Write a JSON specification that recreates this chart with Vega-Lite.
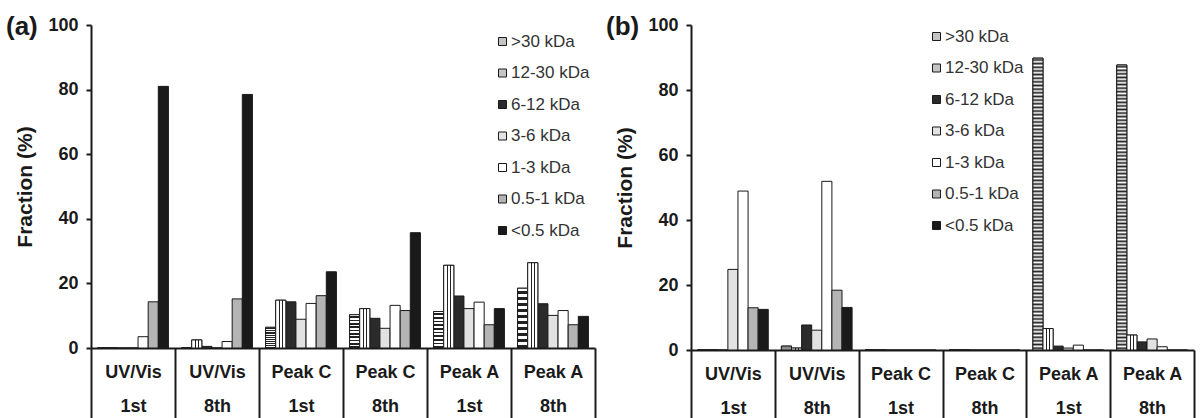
{
  "$schema": "https://vega.github.io/schema/vega-lite/v6.json",
  "background": "white",
  "padding": {"left": 5, "top": 14, "right": 3, "bottom": 0},
  "bounds": "flush",
  "spacing": 96,
  "config": {
    "view": {"stroke": null},
    "axis": {
      "domainColor": "#1a1a1a", "domainWidth": 2, "tickColor": "#1a1a1a", "tickWidth": 2,
      "labelFont": "Liberation Sans", "labelFontWeight": "bold", "labelFontSize": 18, "labelColor": "#1a1a1a",
      "titleFont": "Liberation Sans", "titleFontWeight": "bold", "titleFontSize": 21, "titleColor": "#1a1a1a",
      "grid": false
    },
    "axisX": {"title": null, "labelAngle": 0, "tickBand": "extent", "tickSize": 70, "labelExpr": "split(datum.label, '|')", "labelLineHeight": 34, "labelBaseline": "top", "labelPadding": -55, "labelOverlap": false, "labelFlush": false},
    "axisY": {"tickSize": 5, "labelPadding": 8, "titlePadding": 12},
    "legend": {"title": null, "orient": "none", "symbolType": "square", "symbolSize": 64, "labelFontSize": 17, "labelFont": "Liberation Sans", "labelColor": "#333333", "rowPadding": 13.5, "symbolStrokeColor": "#1a1a1a", "symbolStrokeWidth": 1, "labelOffset": 0, "padding": 0},
    "title": {"font": "Liberation Sans", "fontSize": 26, "fontWeight": "bold", "color": "#1a1a1a", "anchor": "start", "frame": "bounds", "offset": 0}
  },
  "resolve": {"scale": {"fill": "independent", "x": "independent", "y": "independent", "xOffset": "independent"}, "legend": {"fill": "independent"}},
  "datasets": {
    "a": [
      {"g": "UV/Vis|1st", "s": ">30 kDa", "v": 0}, {"g": "UV/Vis|1st", "s": "12-30 kDa", "v": 0}, {"g": "UV/Vis|1st", "s": "6-12 kDa", "v": 0}, {"g": "UV/Vis|1st", "s": "3-6 kDa", "v": 0}, {"g": "UV/Vis|1st", "s": "1-3 kDa", "v": 3.5}, {"g": "UV/Vis|1st", "s": "0.5-1 kDa", "v": 14.3}, {"g": "UV/Vis|1st", "s": "<0.5 kDa", "v": 81},
      {"g": "UV/Vis|8th", "s": ">30 kDa", "v": 0}, {"g": "UV/Vis|8th", "s": "12-30 kDa", "v": 2.5}, {"g": "UV/Vis|8th", "s": "6-12 kDa", "v": 0.5}, {"g": "UV/Vis|8th", "s": "3-6 kDa", "v": 0}, {"g": "UV/Vis|8th", "s": "1-3 kDa", "v": 2.0}, {"g": "UV/Vis|8th", "s": "0.5-1 kDa", "v": 15.2}, {"g": "UV/Vis|8th", "s": "<0.5 kDa", "v": 78.5},
      {"g": "Peak C|1st", "s": ">30 kDa", "v": 6.4}, {"g": "Peak C|1st", "s": "12-30 kDa", "v": 14.8}, {"g": "Peak C|1st", "s": "6-12 kDa", "v": 14.3}, {"g": "Peak C|1st", "s": "3-6 kDa", "v": 8.9}, {"g": "Peak C|1st", "s": "1-3 kDa", "v": 13.8}, {"g": "Peak C|1st", "s": "0.5-1 kDa", "v": 16.2}, {"g": "Peak C|1st", "s": "<0.5 kDa", "v": 23.6},
      {"g": "Peak C|8th", "s": ">30 kDa", "v": 10.3}, {"g": "Peak C|8th", "s": "12-30 kDa", "v": 12.2}, {"g": "Peak C|8th", "s": "6-12 kDa", "v": 9.2}, {"g": "Peak C|8th", "s": "3-6 kDa", "v": 6.1}, {"g": "Peak C|8th", "s": "1-3 kDa", "v": 13.2}, {"g": "Peak C|8th", "s": "0.5-1 kDa", "v": 11.6}, {"g": "Peak C|8th", "s": "<0.5 kDa", "v": 35.7},
      {"g": "Peak A|1st", "s": ">30 kDa", "v": 11.3}, {"g": "Peak A|1st", "s": "12-30 kDa", "v": 25.6}, {"g": "Peak A|1st", "s": "6-12 kDa", "v": 16.1}, {"g": "Peak A|1st", "s": "3-6 kDa", "v": 12.2}, {"g": "Peak A|1st", "s": "1-3 kDa", "v": 14.2}, {"g": "Peak A|1st", "s": "0.5-1 kDa", "v": 7.2}, {"g": "Peak A|1st", "s": "<0.5 kDa", "v": 12.2},
      {"g": "Peak A|8th", "s": ">30 kDa", "v": 18.5}, {"g": "Peak A|8th", "s": "12-30 kDa", "v": 26.4}, {"g": "Peak A|8th", "s": "6-12 kDa", "v": 13.7}, {"g": "Peak A|8th", "s": "3-6 kDa", "v": 10.1}, {"g": "Peak A|8th", "s": "1-3 kDa", "v": 11.6}, {"g": "Peak A|8th", "s": "0.5-1 kDa", "v": 7.2}, {"g": "Peak A|8th", "s": "<0.5 kDa", "v": 9.8}
    ],
    "b": [
      {"g": "UV/Vis|1st", "s": ">30 kDa", "v": 0}, {"g": "UV/Vis|1st", "s": "12-30 kDa", "v": 0}, {"g": "UV/Vis|1st", "s": "6-12 kDa", "v": 0}, {"g": "UV/Vis|1st", "s": "3-6 kDa", "v": 24.8}, {"g": "UV/Vis|1st", "s": "1-3 kDa", "v": 48.9}, {"g": "UV/Vis|1st", "s": "0.5-1 kDa", "v": 13.0}, {"g": "UV/Vis|1st", "s": "<0.5 kDa", "v": 12.5},
      {"g": "UV/Vis|8th", "s": ">30 kDa", "v": 1.2}, {"g": "UV/Vis|8th", "s": "12-30 kDa", "v": 0.6}, {"g": "UV/Vis|8th", "s": "6-12 kDa", "v": 7.7}, {"g": "UV/Vis|8th", "s": "3-6 kDa", "v": 6.1}, {"g": "UV/Vis|8th", "s": "1-3 kDa", "v": 51.9}, {"g": "UV/Vis|8th", "s": "0.5-1 kDa", "v": 18.4}, {"g": "UV/Vis|8th", "s": "<0.5 kDa", "v": 13.1},
      {"g": "Peak C|1st", "s": ">30 kDa", "v": 0}, {"g": "Peak C|1st", "s": "12-30 kDa", "v": 0}, {"g": "Peak C|1st", "s": "6-12 kDa", "v": 0}, {"g": "Peak C|1st", "s": "3-6 kDa", "v": 0}, {"g": "Peak C|1st", "s": "1-3 kDa", "v": 0}, {"g": "Peak C|1st", "s": "0.5-1 kDa", "v": 0}, {"g": "Peak C|1st", "s": "<0.5 kDa", "v": 0},
      {"g": "Peak C|8th", "s": ">30 kDa", "v": 0}, {"g": "Peak C|8th", "s": "12-30 kDa", "v": 0}, {"g": "Peak C|8th", "s": "6-12 kDa", "v": 0}, {"g": "Peak C|8th", "s": "3-6 kDa", "v": 0}, {"g": "Peak C|8th", "s": "1-3 kDa", "v": 0}, {"g": "Peak C|8th", "s": "0.5-1 kDa", "v": 0}, {"g": "Peak C|8th", "s": "<0.5 kDa", "v": 0},
      {"g": "Peak A|1st", "s": ">30 kDa", "v": 89.8}, {"g": "Peak A|1st", "s": "12-30 kDa", "v": 6.6}, {"g": "Peak A|1st", "s": "6-12 kDa", "v": 1.2}, {"g": "Peak A|1st", "s": "3-6 kDa", "v": 0.6}, {"g": "Peak A|1st", "s": "1-3 kDa", "v": 1.5}, {"g": "Peak A|1st", "s": "0.5-1 kDa", "v": 0}, {"g": "Peak A|1st", "s": "<0.5 kDa", "v": 0},
      {"g": "Peak A|8th", "s": ">30 kDa", "v": 87.7}, {"g": "Peak A|8th", "s": "12-30 kDa", "v": 4.6}, {"g": "Peak A|8th", "s": "6-12 kDa", "v": 2.5}, {"g": "Peak A|8th", "s": "3-6 kDa", "v": 3.4}, {"g": "Peak A|8th", "s": "1-3 kDa", "v": 1.0}, {"g": "Peak A|8th", "s": "0.5-1 kDa", "v": 0}, {"g": "Peak A|8th", "s": "<0.5 kDa", "v": 0}
    ]
  },
  "hconcat": [
    {
      "width": 504, "height": 323,
      "title": {"text": "(a)", "dx": -9, "dy": 28},
      "data": {"name": "a"},
      "encoding": {
        "x": {"field": "g", "type": "nominal", "sort": null, "scale": {"paddingInner": 0, "paddingOuter": 0}},
        "xOffset": {"field": "s", "type": "nominal", "scale": {"domain": [">30 kDa", "12-30 kDa", "6-12 kDa", "3-6 kDa", "1-3 kDa", "0.5-1 kDa", "<0.5 kDa"], "paddingInner": 0, "paddingOuter": 0.65}},
        "y": {"field": "v", "type": "quantitative", "scale": {"domain": [0, 100], "nice": false}, "axis": {"title": "Fraction (%)", "values": [0, 20, 40, 60, 80, 100]}}
      },
      "layer": [
        {
          "mark": {"type": "bar", "stroke": "#1a1a1a", "strokeWidth": 1},
          "encoding": {
            "fill": {
              "field": "s", "type": "nominal",
              "scale": {"domain": [">30 kDa", "12-30 kDa", "6-12 kDa", "3-6 kDa", "1-3 kDa", "0.5-1 kDa", "<0.5 kDa"], "range": ["#c4c4c4", "#c4c4c4", "#2b2b2b", "#e2e2e2", "#ffffff", "#b4b4b4", "#1a1a1a"]},
              "legend": {"legendX": 403, "legendY": 8}
            }
          }
        },
        {
          "transform": [{"filter": "datum.s === '>30 kDa'"}],
          "mark": {"type": "bar", "stroke": "#1a1a1a", "strokeWidth": 1, "fill": {"gradient": "linear", "x1": 0, "y1": 0, "x2": 0, "y2": 1, "stops": [
                {"offset": 0, "color": "#fff"}, {"offset": 0.05, "color": "#fff"}, {"offset": 0.05, "color": "#222"}, {"offset": 0.1, "color": "#222"},
                {"offset": 0.1, "color": "#fff"}, {"offset": 0.15, "color": "#fff"}, {"offset": 0.15, "color": "#222"}, {"offset": 0.2, "color": "#222"},
                {"offset": 0.2, "color": "#fff"}, {"offset": 0.25, "color": "#fff"}, {"offset": 0.25, "color": "#222"}, {"offset": 0.3, "color": "#222"},
                {"offset": 0.3, "color": "#fff"}, {"offset": 0.35, "color": "#fff"}, {"offset": 0.35, "color": "#222"}, {"offset": 0.4, "color": "#222"},
                {"offset": 0.4, "color": "#fff"}, {"offset": 0.45, "color": "#fff"}, {"offset": 0.45, "color": "#222"}, {"offset": 0.5, "color": "#222"},
                {"offset": 0.5, "color": "#fff"}, {"offset": 0.55, "color": "#fff"}, {"offset": 0.55, "color": "#222"}, {"offset": 0.6, "color": "#222"},
                {"offset": 0.6, "color": "#fff"}, {"offset": 0.65, "color": "#fff"}, {"offset": 0.65, "color": "#222"}, {"offset": 0.7, "color": "#222"},
                {"offset": 0.7, "color": "#fff"}, {"offset": 0.75, "color": "#fff"}, {"offset": 0.75, "color": "#222"}, {"offset": 0.8, "color": "#222"},
                {"offset": 0.8, "color": "#fff"}, {"offset": 0.85, "color": "#fff"}, {"offset": 0.85, "color": "#222"}, {"offset": 0.9, "color": "#222"},
                {"offset": 0.9, "color": "#fff"}, {"offset": 0.95, "color": "#fff"}, {"offset": 0.95, "color": "#222"}, {"offset": 1, "color": "#222"}
              ]}}
        },
        {
          "transform": [{"filter": "datum.s === '12-30 kDa'"}],
          "mark": {"type": "bar", "stroke": "#1a1a1a", "strokeWidth": 1, "fill": {"gradient": "linear", "x1": 0, "y1": 0, "x2": 1, "y2": 0, "stops": [
                {"offset": 0, "color": "#fff"}, {"offset": 0.3, "color": "#fff"}, {"offset": 0.3, "color": "#222"}, {"offset": 0.4, "color": "#222"}, {"offset": 0.4, "color": "#fff"}, {"offset": 0.6, "color": "#fff"}, {"offset": 0.6, "color": "#222"}, {"offset": 0.7, "color": "#222"}, {"offset": 0.7, "color": "#fff"}, {"offset": 1, "color": "#fff"}
              ]}}
        }
      ]
    },
    {
      "width": 503, "height": 325,
      "title": {"text": "(b)", "dx": -9, "dy": 28},
      "data": {"name": "b"},
      "encoding": {
        "x": {"field": "g", "type": "nominal", "sort": null, "scale": {"paddingInner": 0, "paddingOuter": 0}},
        "xOffset": {"field": "s", "type": "nominal", "scale": {"domain": [">30 kDa", "12-30 kDa", "6-12 kDa", "3-6 kDa", "1-3 kDa", "0.5-1 kDa", "<0.5 kDa"], "paddingInner": 0, "paddingOuter": 0.65}},
        "y": {"field": "v", "type": "quantitative", "scale": {"domain": [0, 100], "nice": false}, "axis": {"title": "Fraction (%)", "values": [0, 20, 40, 60, 80, 100]}}
      },
      "layer": [
        {
          "mark": {"type": "bar", "stroke": "#1a1a1a", "strokeWidth": 1},
          "encoding": {
            "fill": {
              "field": "s", "type": "nominal",
              "scale": {"domain": [">30 kDa", "12-30 kDa", "6-12 kDa", "3-6 kDa", "1-3 kDa", "0.5-1 kDa", "<0.5 kDa"], "range": ["#c4c4c4", "#c4c4c4", "#2b2b2b", "#e2e2e2", "#ffffff", "#b4b4b4", "#1a1a1a"]},
              "legend": {"legendX": 237, "legendY": 3}
            }
          }
        },
        {
          "transform": [{"filter": "datum.s === '>30 kDa'"}],
          "mark": {"type": "bar", "stroke": "#1a1a1a", "strokeWidth": 1, "fill": {"gradient": "linear", "x1": 0, "y1": 0, "x2": 0, "y2": 1, "stops": [
                {"offset": 0, "color": "#fff"}, {"offset": 0.00625, "color": "#222"}, {"offset": 0.0125, "color": "#fff"}, {"offset": 0.01875, "color": "#222"}, {"offset": 0.025, "color": "#fff"}, {"offset": 0.03125, "color": "#222"}, {"offset": 0.0375, "color": "#fff"}, {"offset": 0.04375, "color": "#222"}, {"offset": 0.05, "color": "#fff"}, {"offset": 0.05625, "color": "#222"}, {"offset": 0.0625, "color": "#fff"}, {"offset": 0.06875, "color": "#222"}, {"offset": 0.075, "color": "#fff"}, {"offset": 0.08125, "color": "#222"}, {"offset": 0.0875, "color": "#fff"}, {"offset": 0.09375, "color": "#222"},
                {"offset": 0.1, "color": "#fff"}, {"offset": 0.10625, "color": "#222"}, {"offset": 0.1125, "color": "#fff"}, {"offset": 0.11875, "color": "#222"}, {"offset": 0.125, "color": "#fff"}, {"offset": 0.13125, "color": "#222"}, {"offset": 0.1375, "color": "#fff"}, {"offset": 0.14375, "color": "#222"}, {"offset": 0.15, "color": "#fff"}, {"offset": 0.15625, "color": "#222"}, {"offset": 0.1625, "color": "#fff"}, {"offset": 0.16875, "color": "#222"}, {"offset": 0.175, "color": "#fff"}, {"offset": 0.18125, "color": "#222"}, {"offset": 0.1875, "color": "#fff"}, {"offset": 0.19375, "color": "#222"},
                {"offset": 0.2, "color": "#fff"}, {"offset": 0.20625, "color": "#222"}, {"offset": 0.2125, "color": "#fff"}, {"offset": 0.21875, "color": "#222"}, {"offset": 0.225, "color": "#fff"}, {"offset": 0.23125, "color": "#222"}, {"offset": 0.2375, "color": "#fff"}, {"offset": 0.24375, "color": "#222"}, {"offset": 0.25, "color": "#fff"}, {"offset": 0.25625, "color": "#222"}, {"offset": 0.2625, "color": "#fff"}, {"offset": 0.26875, "color": "#222"}, {"offset": 0.275, "color": "#fff"}, {"offset": 0.28125, "color": "#222"}, {"offset": 0.2875, "color": "#fff"}, {"offset": 0.29375, "color": "#222"},
                {"offset": 0.3, "color": "#fff"}, {"offset": 0.30625, "color": "#222"}, {"offset": 0.3125, "color": "#fff"}, {"offset": 0.31875, "color": "#222"}, {"offset": 0.325, "color": "#fff"}, {"offset": 0.33125, "color": "#222"}, {"offset": 0.3375, "color": "#fff"}, {"offset": 0.34375, "color": "#222"}, {"offset": 0.35, "color": "#fff"}, {"offset": 0.35625, "color": "#222"}, {"offset": 0.3625, "color": "#fff"}, {"offset": 0.36875, "color": "#222"}, {"offset": 0.375, "color": "#fff"}, {"offset": 0.38125, "color": "#222"}, {"offset": 0.3875, "color": "#fff"}, {"offset": 0.39375, "color": "#222"},
                {"offset": 0.4, "color": "#fff"}, {"offset": 0.40625, "color": "#222"}, {"offset": 0.4125, "color": "#fff"}, {"offset": 0.41875, "color": "#222"}, {"offset": 0.425, "color": "#fff"}, {"offset": 0.43125, "color": "#222"}, {"offset": 0.4375, "color": "#fff"}, {"offset": 0.44375, "color": "#222"}, {"offset": 0.45, "color": "#fff"}, {"offset": 0.45625, "color": "#222"}, {"offset": 0.4625, "color": "#fff"}, {"offset": 0.46875, "color": "#222"}, {"offset": 0.475, "color": "#fff"}, {"offset": 0.48125, "color": "#222"}, {"offset": 0.4875, "color": "#fff"}, {"offset": 0.49375, "color": "#222"},
                {"offset": 0.5, "color": "#fff"}, {"offset": 0.50625, "color": "#222"}, {"offset": 0.5125, "color": "#fff"}, {"offset": 0.51875, "color": "#222"}, {"offset": 0.525, "color": "#fff"}, {"offset": 0.53125, "color": "#222"}, {"offset": 0.5375, "color": "#fff"}, {"offset": 0.54375, "color": "#222"}, {"offset": 0.55, "color": "#fff"}, {"offset": 0.55625, "color": "#222"}, {"offset": 0.5625, "color": "#fff"}, {"offset": 0.56875, "color": "#222"}, {"offset": 0.575, "color": "#fff"}, {"offset": 0.58125, "color": "#222"}, {"offset": 0.5875, "color": "#fff"}, {"offset": 0.59375, "color": "#222"},
                {"offset": 0.6, "color": "#fff"}, {"offset": 0.60625, "color": "#222"}, {"offset": 0.6125, "color": "#fff"}, {"offset": 0.61875, "color": "#222"}, {"offset": 0.625, "color": "#fff"}, {"offset": 0.63125, "color": "#222"}, {"offset": 0.6375, "color": "#fff"}, {"offset": 0.64375, "color": "#222"}, {"offset": 0.65, "color": "#fff"}, {"offset": 0.65625, "color": "#222"}, {"offset": 0.6625, "color": "#fff"}, {"offset": 0.66875, "color": "#222"}, {"offset": 0.675, "color": "#fff"}, {"offset": 0.68125, "color": "#222"}, {"offset": 0.6875, "color": "#fff"}, {"offset": 0.69375, "color": "#222"},
                {"offset": 0.7, "color": "#fff"}, {"offset": 0.70625, "color": "#222"}, {"offset": 0.7125, "color": "#fff"}, {"offset": 0.71875, "color": "#222"}, {"offset": 0.725, "color": "#fff"}, {"offset": 0.73125, "color": "#222"}, {"offset": 0.7375, "color": "#fff"}, {"offset": 0.74375, "color": "#222"}, {"offset": 0.75, "color": "#fff"}, {"offset": 0.75625, "color": "#222"}, {"offset": 0.7625, "color": "#fff"}, {"offset": 0.76875, "color": "#222"}, {"offset": 0.775, "color": "#fff"}, {"offset": 0.78125, "color": "#222"}, {"offset": 0.7875, "color": "#fff"}, {"offset": 0.79375, "color": "#222"},
                {"offset": 0.8, "color": "#fff"}, {"offset": 0.80625, "color": "#222"}, {"offset": 0.8125, "color": "#fff"}, {"offset": 0.81875, "color": "#222"}, {"offset": 0.825, "color": "#fff"}, {"offset": 0.83125, "color": "#222"}, {"offset": 0.8375, "color": "#fff"}, {"offset": 0.84375, "color": "#222"}, {"offset": 0.85, "color": "#fff"}, {"offset": 0.85625, "color": "#222"}, {"offset": 0.8625, "color": "#fff"}, {"offset": 0.86875, "color": "#222"}, {"offset": 0.875, "color": "#fff"}, {"offset": 0.88125, "color": "#222"}, {"offset": 0.8875, "color": "#fff"}, {"offset": 0.89375, "color": "#222"},
                {"offset": 0.9, "color": "#fff"}, {"offset": 0.90625, "color": "#222"}, {"offset": 0.9125, "color": "#fff"}, {"offset": 0.91875, "color": "#222"}, {"offset": 0.925, "color": "#fff"}, {"offset": 0.93125, "color": "#222"}, {"offset": 0.9375, "color": "#fff"}, {"offset": 0.94375, "color": "#222"}, {"offset": 0.95, "color": "#fff"}, {"offset": 0.95625, "color": "#222"}, {"offset": 0.9625, "color": "#fff"}, {"offset": 0.96875, "color": "#222"}, {"offset": 0.975, "color": "#fff"}, {"offset": 0.98125, "color": "#222"}, {"offset": 0.9875, "color": "#fff"}, {"offset": 0.99375, "color": "#222"},
                {"offset": 1, "color": "#fff"}
              ]}}
        },
        {
          "transform": [{"filter": "datum.s === '12-30 kDa'"}],
          "mark": {"type": "bar", "stroke": "#1a1a1a", "strokeWidth": 1, "fill": {"gradient": "linear", "x1": 0, "y1": 0, "x2": 1, "y2": 0, "stops": [
                {"offset": 0, "color": "#fff"}, {"offset": 0.3, "color": "#fff"}, {"offset": 0.3, "color": "#222"}, {"offset": 0.4, "color": "#222"}, {"offset": 0.4, "color": "#fff"}, {"offset": 0.6, "color": "#fff"}, {"offset": 0.6, "color": "#222"}, {"offset": 0.7, "color": "#222"}, {"offset": 0.7, "color": "#fff"}, {"offset": 1, "color": "#fff"}
              ]}}
        }
      ]
    }
  ]
}
